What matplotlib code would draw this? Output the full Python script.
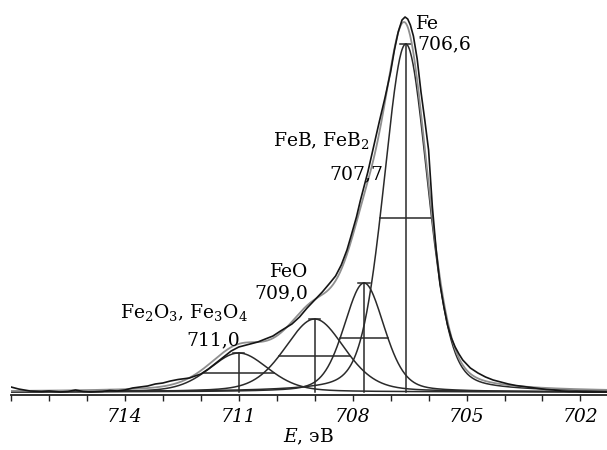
import numpy as np
import matplotlib
matplotlib.use("Agg")
import matplotlib.pyplot as plt
from matplotlib.ticker import MultipleLocator, FixedLocator

plt.rcParams['font.family'] = ['DejaVu Serif']
plt.rcParams['mathtext.fontset'] = 'dejavuserif'

energy = [717.0, 716.8, 716.5, 716.2, 716.0, 715.7, 715.5, 715.3, 715.1, 714.9,
          714.6, 714.4, 714.2, 714.0, 713.8, 713.6, 713.4, 713.2, 713.0, 712.8,
          712.6, 712.3, 712.0, 711.8, 711.6, 711.4, 711.2, 711.0, 710.8, 710.5,
          710.3, 710.1, 709.9, 709.6, 709.4, 709.2, 709.0, 708.8, 708.6, 708.45,
          708.3, 708.15, 708.05, 707.9, 707.8, 707.6, 707.45, 707.3, 707.15, 707.0,
          706.9, 706.8, 706.7, 706.62, 706.55, 706.48, 706.4, 706.3, 706.2, 706.1,
          706.0, 705.9, 705.8, 705.7, 705.6, 705.5, 705.4, 705.3, 705.2, 705.1,
          704.9, 704.7, 704.5, 704.3, 704.1, 703.9, 703.7, 703.5, 703.3, 703.1,
          702.9, 702.7, 702.5, 702.3, 702.1, 701.9, 701.6, 701.3]
intensity = [5, 3, 1, 0.5, 1, 0, 0.5, 2, 0.5, 0,
             0.5, 1.5, 1, 2, 4, 5, 6, 8, 9, 11,
             12.5, 14, 18, 23, 29, 35, 41, 45, 47, 50,
             53, 56, 61, 68, 75, 84, 92, 100, 109, 116,
             127, 142, 155, 175, 191, 220, 245, 270, 294, 320,
             342, 360, 372, 375, 373, 367, 356, 333, 300, 272,
             242, 185, 142, 108, 86, 67, 54, 45, 38, 32,
             24, 19, 15, 12, 10, 8, 6.5, 5.5, 4.5, 3.5,
             2.5, 2, 1, 0.5, 0.5, 0, 0, 0]

# ---- fitted components ----
comp_names = ['Fe$_2$O$_3$, Fe$_3$O$_4$', 'FeO', 'FeB, FeB$_2$', 'Fe']
comp_labels = ['711,0', '709,0', '707,7', '706,6']
comp_center = [711.0, 709.0, 707.7, 706.6]
comp_height = [39, 73, 109, 348]
comp_fwhm = [1.84, 1.86, 1.25, 1.36]
comp_eta = [0.3, 0.3, 0.3, 0.25]

tick_major = [714, 711, 708, 705, 702]


def pvoigt(x, c, h, w, eta):
    d = (x - c) / (w / 2.0)
    lor = 1.0 / (1.0 + d ** 2)
    gau = np.exp(-np.log(2) * d ** 2)
    return h * (eta * lor + (1 - eta) * gau)


fig = plt.figure(figsize=(6.07, 4.5), dpi=100)
ax = fig.add_axes([11 / 607, 55 / 450, 596 / 607, 395 / 450])

xg = np.linspace(717.0, 701.3, 800)
total = np.zeros_like(xg)
dark = '#2a2a2a'
for c, h, w, eta in zip(comp_center, comp_height, comp_fwhm, comp_eta):
    y = pvoigt(xg, c, h, w, eta)
    total += y
    ax.plot(xg, y, color=dark, lw=1.1)
    ax.plot([c, c], [0, h], color=dark, lw=1.1)
    ax.plot([c - w / 2, c + w / 2], [h / 2, h / 2], color=dark, lw=1.1)
    ax.plot([c - 0.15, c + 0.15], [h, h], color=dark, lw=1.1)

ax.plot(xg, total, color='#8f8f8f', lw=1.3)
ax.plot(energy, intensity, color='#151515', lw=1.2)

fs = 13.5
# labels
ax.text(706.33, 363, 'Fe', fontsize=fs, ha='left', va='baseline')
ax.text(706.30, 343, comp_labels[3], fontsize=fs, ha='left', va='baseline')
ax.text(707.55, 246, comp_names[2], fontsize=fs, ha='right', va='baseline')
ax.text(707.2, 213, comp_labels[2], fontsize=fs, ha='right', va='baseline')
ax.text(709.17, 115, comp_names[1], fontsize=fs, ha='right', va='baseline')
ax.text(709.17, 94, comp_labels[1], fontsize=fs, ha='right', va='baseline')
ax.text(710.75, 74, comp_names[0], fontsize=fs, ha='right', va='baseline')
ax.text(710.96, 47, comp_labels[0], fontsize=fs, ha='right', va='baseline')

ax.set_xlim(717.0, 701.3)
ax.set_ylim(-3, 392)
for s in ['left', 'right', 'top']:
    ax.spines[s].set_visible(False)
ax.spines['bottom'].set_linewidth(1.3)
ax.spines['bottom'].set_color('#222222')
ax.set_yticks([])
ax.xaxis.set_major_locator(FixedLocator(tick_major))
ax.xaxis.set_minor_locator(MultipleLocator(1))
ax.tick_params(axis='x', which='both', direction='out', length=4, width=1, color='#222222', pad=5)
ax.set_xticklabels([str(t) for t in tick_major], fontsize=fs, fontstyle='italic')
ax.set_xlabel('$E$, эВ', fontsize=fs, labelpad=1)

fig.savefig('out.png', dpi=100)
